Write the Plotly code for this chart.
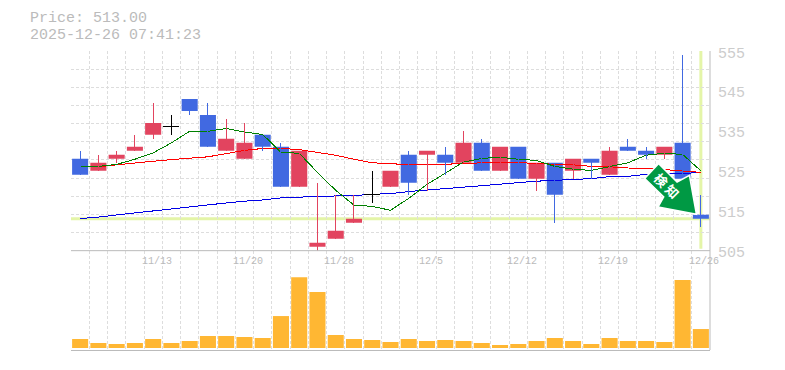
import plotly.graph_objects as go

n_labels = ["11/13", "11/20", "11/28", "12/5", "12/12", "12/19", "12/26"]
label_idx = [4, 9, 14, 19, 24, 29, 34]
y_labels = [505, 515, 525, 535, 545, 555]

body_top = [528,527,529,531,537,536,543,539,533,532,534,531,530,507,510,513,519,525,529,530,529,532,532,531,531,527,527,528,528,530,531,530,531,532,514]
body_bot = [524,525,528,530,534,536,540,531,530,528,531,521,521,506,508,512,519,521,522,529,527,527,525,525,523,523,519,525,527,524,530,529,529,523,513]
high     = [530,529,530,534,542,539,543,542,538,537,534,532,530,522,519,519,525,525,530,530,531,535,533,531,531,527,527,528,528,531,533,531,531,554,519]
low      = [524,525,527,530,533,534,539,531,530,528,530,521,521,505,508,512,517,521,519,520,524,527,525,525,523,520,512,523,523,524,530,528,528,523,511]
kind     = list("brrrrkbbrrbbrrrrkrbrbrbrbrbrbrbbrbb")

ma_green = [526,526.1,526.6,527.9,529.5,532,534.9,534.9,535.6,534.7,534.1,529.6,529.4,524.6,520.1,516.4,516.1,515.1,518.1,521.6,524.4,527.2,528.1,528.4,527.9,527.6,526.1,525.4,525.1,526.1,527,528.9,529.4,529.1,525]
ma_red = [526,526,526.5,527,527.4,527.8,528.2,528.5,529.3,530.1,530.6,530.6,530.3,529.6,528.9,527.9,527,526.8,526.5,526.5,526.6,526.8,527,527.1,527,526.9,526.6,526.5,526.1,526,525.7,525.6,525.3,524.9,524.6]
ma_blue = [513.05,513.4,513.95,514.45,514.95,515.55,516.1,516.6,516.95,517.4,517.7,518.2,518.45,518.6,518.7,518.8,519.1,519.3,519.8,520.1,520.55,520.9,521.3,521.6,522.05,522.4,522.6,522.8,523.05,523.55,523.6,524.1,524.3,524.4,524.5]
volume = [9,5,4,5,9,5,7,12,12,11,10,32,71,56,13,9,8,6,9,7,8,7,5,3,4,7,10,7,4,10,7,7,6,68,19]

idx = list(range(len(volume)))
RED, BLUE = "#e2445f", "#4169e1"
GRID = "#dddddd"
AX = "#bbbbbb"
L, R, T, B = 70.5, 709.6, 50.5, 350.0
W, H = 785, 370
pw, ph = R - L, B - T
def ax(x): return (x - L) / pw
def ay(y): return (B - y) / ph
split = ay(250.5)

fig = go.Figure()
for vals, c in ((ma_blue, "#0000e6"), (ma_red, "#ff0000"), (ma_green, "#008000")):
    fig.add_trace(go.Scatter(x=idx, y=vals, mode="lines", line=dict(color=c, width=1), hoverinfo="skip"))

for code, col in (("r", RED), ("b", BLUE), ("k", "#000000")):
    sel = [i for i in idx if kind[i] == code]
    wx, wy = [], []
    for i in sel:
        wx += [i, i, None]
        wy += [low[i], high[i], None]
    fig.add_trace(go.Scatter(x=wx, y=wy, mode="lines", line=dict(color=col, width=1), hoverinfo="skip"))
    if code == "k":
        wx, wy = [], []
        for i in sel:
            wx += [i - 0.44, i + 0.44, None]
            wy += [body_top[i], body_top[i], None]
        fig.add_trace(go.Scatter(x=wx, y=wy, mode="lines", line=dict(color=col, width=1), hoverinfo="skip"))
    else:
        fig.add_trace(go.Bar(x=sel, y=[body_top[i] - body_bot[i] for i in sel],
                             base=[body_bot[i] for i in sel], width=0.88,
                             marker=dict(color=col, line=dict(width=0)), hoverinfo="skip"))

fig.add_trace(go.Bar(x=idx, y=volume, width=0.88, marker=dict(color="#ffb733", line=dict(width=0)),
                     xaxis="x2", yaxis="y2", hoverinfo="skip"))

grid_y = [505 + i * 50 / 11 for i in range(12)]
grid_x = [i - 0.5 for i in range(36)]
axis_common = dict(range=[-0.5, 34.5], tickmode="array", tickvals=grid_x, showticklabels=False, ticks="",
                   showgrid=True, gridcolor=GRID, griddash="3px,2px", gridwidth=1, zeroline=False)

arrow = [(658.3, 163.3), (644.3, 178.3), (663.3, 196.7), (657.7, 206.7), (696, 214), (689, 175), (676.7, 181.7)]
path = "M " + " L ".join(f"{ax(x):.5f},{ay(y):.5f}" for x, y in arrow) + " Z"
LIME = "#e4f5a8"
shapes = [
    dict(type="line", xref="x", yref="y", x0=-0.5, x1=34.5, y0=513, y1=513, line=dict(color=LIME, width=3), layer="below"),
    dict(type="line", xref="x", yref="y", x0=34, x1=34, y0=505.5, y1=555, line=dict(color=LIME, width=3), layer="below"),
    dict(type="line", xref="paper", yref="paper", x0=0, x1=1, y0=split, y1=split, line=dict(color=AX, width=1)),
    dict(type="line", xref="paper", yref="paper", x0=1, x1=1, y0=0, y1=1, line=dict(color=AX, width=1)),
    dict(type="path", xref="paper", yref="paper", path=path, fillcolor="#009944", line=dict(color="white", width=1.5), layer="above"),
]

annos = []
for t, i in zip(n_labels, label_idx):
    annos.append(dict(text=t, x=i, y=505, xref="x", yref="y", yshift=-11, xshift=3.5, showarrow=False,
                      font=dict(family="Liberation Mono", size=10, color="#bbbbbb")))
for v in y_labels:
    annos.append(dict(text=str(v), x=1, y=v, xref="paper", yref="y", xanchor="left", xshift=6, yshift=-3, showarrow=False,
                      font=dict(family="Liberation Mono", size=15, color="#cccccc")))
annos.append(dict(text="Price: 513.00", x=ax(27), y=ay(17.5), xref="paper", yref="paper", xanchor="left", yanchor="middle", showarrow=False,
                  font=dict(family="Liberation Mono", size=15, color="#bbbbbb")))
annos.append(dict(text="2025-12-26 07:41:23", x=ax(27), y=ay(34.5), xref="paper", yref="paper", xanchor="left", yanchor="middle", showarrow=False,
                  font=dict(family="Liberation Mono", size=15, color="#bbbbbb")))
annos.append(dict(text="<b>検 知</b>", x=ax(666), y=ay(185.7), xref="paper", yref="paper", textangle=45, showarrow=False,
                  xanchor="center", yanchor="middle",
                  font=dict(family="Noto Sans CJK JP", size=13, color="white")))

fig.update_layout(
    width=W, height=H, autosize=False, showlegend=False, barmode="overlay",
    paper_bgcolor="white", plot_bgcolor="white",
    margin=dict(l=L, r=W - R, t=T, b=H - B),
    xaxis=dict(domain=[0, 1], anchor="y", **axis_common),
    xaxis2=dict(domain=[0, 1], anchor="y2", showline=True, linecolor=AX, linewidth=1, **axis_common),
    yaxis=dict(domain=[split, 1], range=[505, 555], tickmode="array", tickvals=grid_y,
               showticklabels=False, ticks="", showgrid=True, gridcolor=GRID, griddash="3px,2px",
               gridwidth=1, zeroline=False, side="right", showline=False),
    yaxis2=dict(domain=[0, split], range=[-2, 97.5], showticklabels=False, ticks="",
                showgrid=False, zeroline=False, side="right"),
    shapes=shapes, annotations=annos,
)

fig.write_html("out.html", config=dict(displayModeBar=False),
               post_script="document.body.style.margin='0';document.querySelectorAll('.scatterlayer path').forEach(function(p){p.style.shapeRendering='crispEdges';});")
